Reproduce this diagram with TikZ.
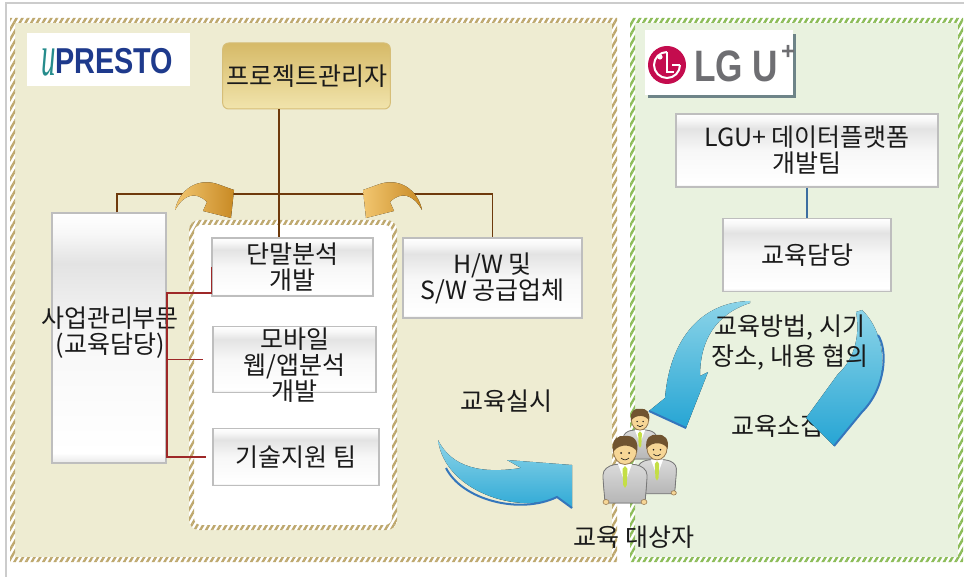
\documentclass[tikz,border=0pt]{standalone}
\usepackage{fontspec}
\setmainfont{Noto Sans CJK KR}
\newfontfamily\logofont{Liberation Sans}
\newfontfamily\logoserif{Liberation Serif}
\usepackage{tikz}
\usetikzlibrary{positioning, calc, patterns.meta}

\definecolor{ink}{RGB}{26,26,26}
\definecolor{beigebg}{RGB}{238,236,210}
\definecolor{tanstripe}{RGB}{190,168,110}
\definecolor{greenbg}{RGB}{233,242,223}
\definecolor{greenstripe}{RGB}{140,188,88}
\definecolor{framegray}{RGB}{204,204,204}
\definecolor{boxline}{RGB}{190,190,190}
\definecolor{goldtop}{RGB}{214,186,104}
\definecolor{goldbot}{RGB}{241,228,172}
\definecolor{goldline}{RGB}{214,190,120}
\definecolor{brownline}{RGB}{110,58,12}
\definecolor{redlink}{RGB}{158,40,40}
\definecolor{bluelink}{RGB}{60,110,160}
\definecolor{orglight}{RGB}{242,198,112}
\definecolor{orgdark}{RGB}{200,138,36}
\definecolor{arrlight}{RGB}{140,212,232}
\definecolor{arrblue}{RGB}{38,165,212}
\definecolor{arredge}{RGB}{52,118,188}
\definecolor{prestoblue}{RGB}{30,58,140}
\definecolor{prestoteal}{RGB}{38,140,140}
\definecolor{lgred}{RGB}{196,12,78}
\definecolor{lggray}{RGB}{110,110,114}
\definecolor{lgshadow}{RGB}{110,132,136}
\definecolor{skin}{RGB}{246,214,150}
\definecolor{skinline}{RGB}{150,120,80}
\definecolor{hairbrown}{RGB}{112,84,48}
\definecolor{suittop}{RGB}{218,218,218}
\definecolor{suitbot}{RGB}{182,182,182}
\definecolor{suitline}{RGB}{120,120,120}
\definecolor{tiegreen}{RGB}{196,222,70}

\pgfdeclareverticalshading{boxgloss}{100bp}{color(0bp)=(gray!18); color(25bp)=(gray!18);
  color(27bp)=(white); color(50bp)=(gray!6); color(65bp)=(gray!22);
  color(71bp)=(white!97!black); color(75bp)=(white); color(100bp)=(white)}

\tikzset{
  man/.pic={
    % suit
    \fill[top color=suittop, bottom color=suitbot, draw=suitline, line width=0.8pt, rounded corners=4pt]
      (-20,52) -- (-22,28) .. controls (-22,18) and (-16,15) .. (-8,13) -- (8,13)
      .. controls (16,15) and (22,18) .. (22,28) -- (20,52) -- cycle;
    \fill[white] (-7,13) -- (7,13) -- (0,32) -- cycle;
    \fill[tiegreen] (0,15) -- (2.5,18) -- (1.8,34) -- (0,37) -- (-1.8,34) -- (-2.5,18) -- cycle;
    % hands
    \filldraw[fill=skin, draw=skinline, line width=0.6pt] (-19,51) ellipse (3 and 2.5);
    \filldraw[fill=skin, draw=skinline, line width=0.6pt] (19,51) ellipse (3 and 2.5);
    % head
    \filldraw[fill=skin, draw=skinline, line width=0.8pt] (0,0) ellipse (11.5 and 13.5);
    \fill[hairbrown] (-12,1) .. controls (-14,-12) and (-7,-16) .. (0,-15)
      .. controls (9,-16) and (14,-10) .. (12,1) .. controls (9,-6) and (-5,-9) .. cycle;
    \fill[ink] (-4,2) circle (1); \fill[ink] (4,2) circle (1);
    \draw[ink, line width=0.6pt] (-4,7) .. controls (-1,9.5) and (1,9.5) .. (4,7);
  }
}

\begin{document}
\begin{tikzpicture}[x=1pt, y=-1pt,
    every node/.style={font=\fontsize{25}{26}\selectfont, text=ink},
    gbox/.style={rectangle, draw=boxline, line width=1.2pt, shade, shading=boxgloss,
        align=center, inner sep=1pt},
    goldbox/.style={rectangle, rounded corners=6pt, draw=goldline, line width=1pt,
        top color=goldtop, bottom color=goldbot, align=center},
    note/.style={align=center, inner sep=0pt},
    orgline/.style={draw=brownline, line width=1.6pt},
    redline/.style={draw=redlink, line width=1.2pt},
    blueline/.style={draw=bluelink, line width=1.4pt},
    tanhatch/.style={pattern={Lines[angle=60,distance=5pt,line width=2.4pt]}, pattern color=tanstripe},
    greenhatch/.style={pattern={Lines[angle=60,distance=5pt,line width=2.4pt]}, pattern color=greenstripe},
    swoosh/.style={top color=arrlight, bottom color=arrblue},
    curl/.style={left color=orglight, right color=orgdark}]
  \useasboundingbox (0,0) rectangle (964,577);
  \fill[white] (0,0) rectangle (964,577);
  \draw[framegray, line width=2pt] (6,577) -- (6,3) -- (964,3);

  % Regions
  \fill[beigebg] (10,18) rectangle (617,562);
  \fill[white, even odd rule] (10,18) rectangle (617,562) (15,23) rectangle (612,557);
  \fill[tanhatch, even odd rule] (10,18) rectangle (617,562) (15,23) rectangle (612,557);
  \fill[greenbg] (630,18) rectangle (963,562);
  \fill[white, even odd rule] (630,18) rectangle (963,562) (635,23) rectangle (958,557);
  \fill[greenhatch, even odd rule] (630,18) rectangle (963,562) (635,23) rectangle (958,557);
  % Team frame
  \fill[white, rounded corners=10pt] (189,220) rectangle (397,530);
  \fill[tanhatch, even odd rule, rounded corners=10pt] (189,220) rectangle (397,530)
    [rounded corners=7pt] (194,225) rectangle (392,525);

  % Logos
  \fill[white] (27,33) rectangle (190,86);
  \node[inner sep=0pt, text=prestoteal] (ulogo) at (48.5,62.5)
    {\logoserif\itshape\fontsize{58}{58}\selectfont\scalebox{0.5}[1]{u}};
  \node[inner sep=0pt, anchor=west, text=prestoblue] (presto) at (55,61.5)
    {\logofont\bfseries\fontsize{36}{36}\selectfont\scalebox{0.8}[1]{PRESTO}};
  \fill[lgshadow] (648,34) rectangle (796,98);
  \fill[white] (645,30) rectangle (793,95);
  \fill[lgred] (667,65) circle (19);
  \draw[white, line width=2pt] (680,65) arc[start angle=0, end angle=270, radius=13];
  \draw[white, line width=2.4pt] (667,52) -- (667,72) -- (674,72);
  \draw[white, line width=2pt] (672,65) -- (680,65);
  \fill[white] (660,57) circle (2.6);
  \node[inner sep=0pt, anchor=west, text=lggray] (lgword) at (694,66)
    {\logofont\bfseries\fontsize{44}{44}\selectfont\scalebox{0.8}[1]{LG U}};
  \node[inner sep=0pt, text=lggray] (lgplus) at (788,52)
    {\logofont\bfseries\fontsize{24}{24}\selectfont +};

  % Boxes
  \node[goldbox, minimum width=157pt, minimum height=66pt] (pm) at (306.5,76) {프로젝트관리자};
  \node[gbox, minimum width=114pt, minimum height=250pt] (biz) at (109,338) {};
  \node[note] (biztxt) at (110,333) {사업관리부문\\(교육담당)};
  \node[gbox, minimum width=161pt, minimum height=58pt] (term) at (292.5,267) {단말분석\\개발};
  \node[gbox, minimum width=163pt, minimum height=66pt, below=29pt of term, xshift=2pt] (mob) {};
  \node[note] (mobtxt) at ([yshift=-6pt]mob.center) {모바일\\웹/앱분석\\개발};
  \node[gbox, minimum width=166pt, minimum height=57pt, below=35pt of mob, xshift=1.5pt] (tech) {기술지원 팀};
  \node[gbox, minimum width=179pt, minimum height=80pt] (hw) at (492.5,278) {H/W 및\\S/W 공급업체};
  \node[gbox, minimum width=262pt, minimum height=73pt] (lgteam) at (807,150.5) {LGU+ 데이터플랫폼\\개발팀};
  \node[gbox, minimum width=168pt, minimum height=73pt, below=30pt of lgteam] (edu) {교육담당};

  % Links
  \coordinate (hub) at (279,194);
  \draw[orgline] (hub |- pm.south) -- (hub |- term.north);
  \draw[orgline] ([xshift=8pt]biz.north) |- (hub) -| (hw.north);
  \coordinate (rbus) at (167,293);
  \draw[redline] (term.west) |- (rbus) |- ([xshift=-6pt]tech.west);
  \draw[redline] (rbus |- mob.west) -- ([xshift=-9pt]mob.west);
  \draw[blueline] (lgteam) -- (edu);

  % Curled arrows
  \fill[curl] (175,210) .. controls (179,190) and (198,176) .. (220,185) -- (234,190)
    -- (231,218) -- (203,211) -- (207,202) .. controls (196,191) and (184,194) .. cycle;
  \begin{scope}[xshift=597pt, xscale=-1]
    \fill[curl] (175,210) .. controls (179,190) and (198,176) .. (220,185) -- (234,190)
      -- (231,218) -- (203,211) -- (207,202) .. controls (196,191) and (184,194) .. cycle;
  \end{scope}

  % Training flow
  \node[note] (gather) at (777,426) {교육소집};
  \fill[swoosh] (438,440) .. controls (445,492) and (520,515) .. (557,497) -- (572,508)
    -- (572,465) -- (507,460) -- (521,468) .. controls (482,474) and (452,468) .. cycle;
  \draw[arredge, line width=2pt] (446,468) .. controls (462,500) and (520,515) .. (557,497) -- (572,508);
  \fill[swoosh] (750,301) .. controls (702,302) and (670,338) .. (665,398) -- (649,411)
    -- (686,428) -- (708,372) -- (700,376) .. controls (700,340) and (716,314) .. (750,303) -- cycle;
  \draw[arredge, line width=2pt] (649,411) -- (686,428);
  \fill[swoosh] (856,312) .. controls (860,332) and (856,358) .. (838,374) -- (806,418)
    -- (834,446) -- (862,412) .. controls (890,385) and (888,335) .. (862,310) -- cycle;
  \draw[arredge, line width=2pt] (834,446) -- (862,412) .. controls (886,388) and (888,350) .. (878,335);
  \node[note, font=\fontsize{25}{30}\selectfont] (consult) at (790,343) {교육방법, 시기\\장소, 내용 협의};
  \node[note] (train) at (506,401) {교육실시};

  % Trainees
  \pic[scale=0.75] (backman) at (640,420) {man};
  \pic[scale=0.88] (rightman) at (657,448) {man};
  \pic (frontman) at (625,451) {man};
  \node[note] (trainee) at (634,537) {교육 대상자};
\end{tikzpicture}
\end{document}
